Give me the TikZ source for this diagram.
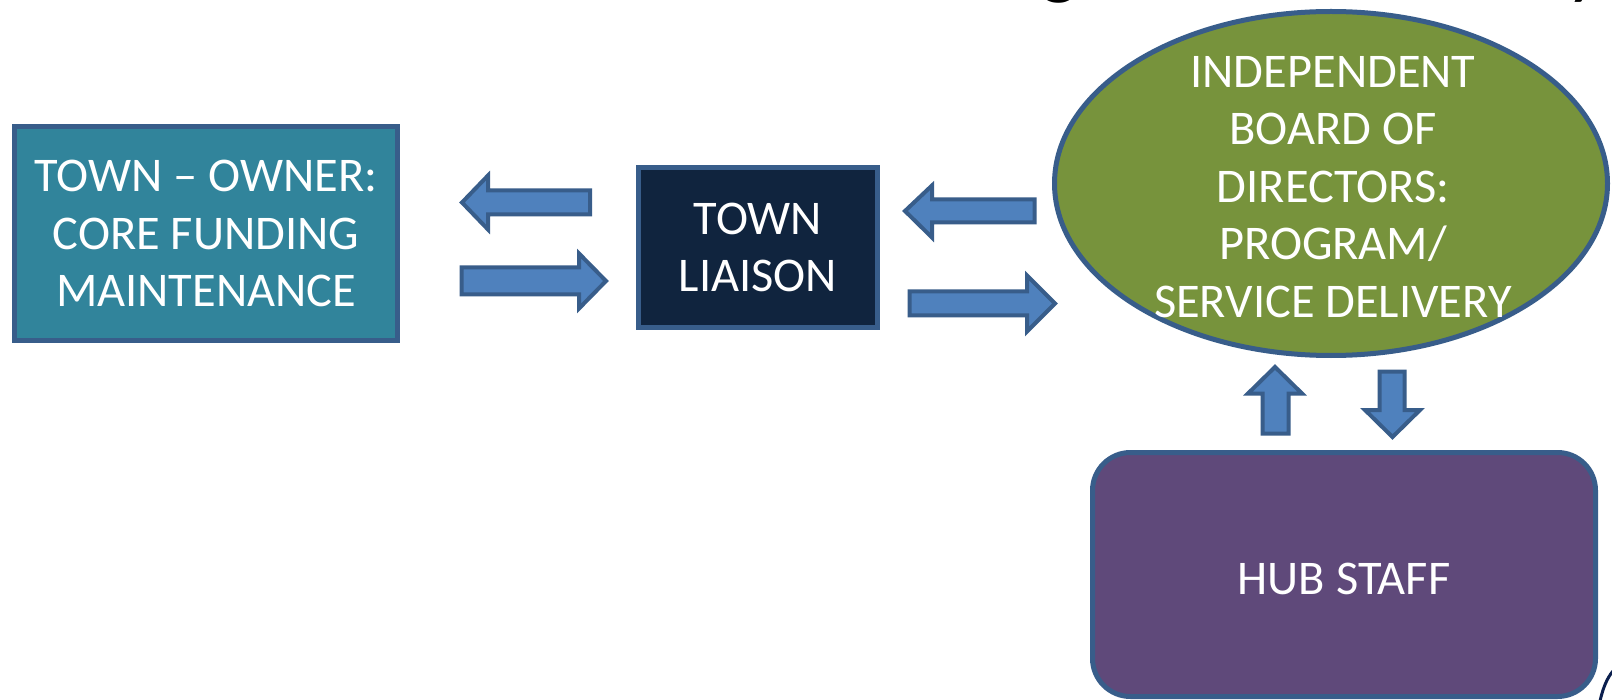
\documentclass[tikz,border=0pt]{standalone}
\usepackage{fontspec}
\setmainfont{Carlito}
\usetikzlibrary{shapes.geometric}
\definecolor{tealA}{HTML}{31849B}
\definecolor{navyA}{HTML}{10243E}
\definecolor{oliveA}{HTML}{77933C}
\definecolor{purpleA}{HTML}{5F497A}
\definecolor{arrfill}{HTML}{4F81BD}
\definecolor{edgeA}{HTML}{385D8A}
\definecolor{logoA}{HTML}{0B1F4E}
\begin{document}
\begin{tikzpicture}[x=0.5pt,y=-0.5pt,
  lbl/.style={text=white, font=\fontsize{24.2}{28.75}\selectfont, align=center},
  boxA/.style={draw=edgeA, line width=2.5pt, inner sep=0pt, lbl},
  barrow/.style={draw=edgeA, fill=arrfill, line width=2pt, line join=miter},
  titletxt/.style={text=black, font=\fontsize{40}{40}\selectfont, inner sep=0pt}]
\useasboundingbox (0,0) rectangle (1612,700);
\fill[white] (0,0) rectangle (1612,700);

% cut-off title fragments (the reference shows only their descenders)
\node[titletxt, anchor=base west] (tg) at (1040,-10) {g};
\node[titletxt, anchor=base west] (ty) at (1566,-10) {y};

% boxes
\node[boxA, fill=tealA, minimum width=191.5pt, minimum height=107pt] (owner) at (206,233.5)
  {TOWN -- OWNER:\\CORE FUNDING\\MAINTENANCE};
\node[boxA, fill=navyA, minimum width=119.5pt, minimum height=80pt] (liaison) at (758,247.5)
  {TOWN\\LIAISON};
\node[draw=edgeA, line width=2.5pt, fill=oliveA, ellipse, inner sep=0pt,
  minimum width=276.5pt, minimum height=172pt] (board) at (1331,183.5) {};
\node[lbl] (boardtxt) at (1333,187) {INDEPENDENT\\BOARD OF\\DIRECTORS:\\PROGRAM/\\SERVICE DELIVERY};
\node[boxA, fill=purpleA, rounded corners=19pt, minimum width=251.5pt, minimum height=122pt] (hub) at (1344,574.5) {};
\node[lbl] (hubtxt) at (1344,579) {HUB STAFF};

% block arrows
\draw[barrow] (462,202.5) -- (488,175.5) -- (488,190.5) -- (590,190.5) -- (590,214.5) -- (488,214.5) -- (488,229.5) -- cycle;
\draw[barrow] (461.5,267.5) -- (579,267.5) -- (579,253.5) -- (606,281) -- (579,308.5) -- (579,294.5) -- (461.5,294.5) -- cycle;
\draw[barrow] (905,211) -- (932,185.5) -- (932,199.5) -- (1034.5,199.5) -- (1034.5,222.5) -- (932,222.5) -- (932,237.5) -- cycle;
\draw[barrow] (909.5,291.5) -- (1027,291.5) -- (1027,275.5) -- (1055,303.5) -- (1027,331.5) -- (1027,315.5) -- (909.5,315.5) -- cycle;
\draw[barrow] (1275,367) -- (1302,393.5) -- (1288.5,393.5) -- (1288.5,433.5) -- (1262.5,433.5) -- (1262.5,393.5) -- (1248,393.5) -- cycle;
\draw[barrow] (1379.5,371.5) -- (1404.5,371.5) -- (1404.5,410) -- (1420,410) -- (1392.5,437) -- (1365,410) -- (1379.5,410) -- cycle;

% fragment of a logo at the bottom right
\coordinate (la) at (1600,701);
\coordinate (lb) at (1613,671);
\draw[logoA, line width=1.5pt] (la) .. controls (1603,688) and (1607,678) .. (lb);
\end{tikzpicture}
\end{document}
